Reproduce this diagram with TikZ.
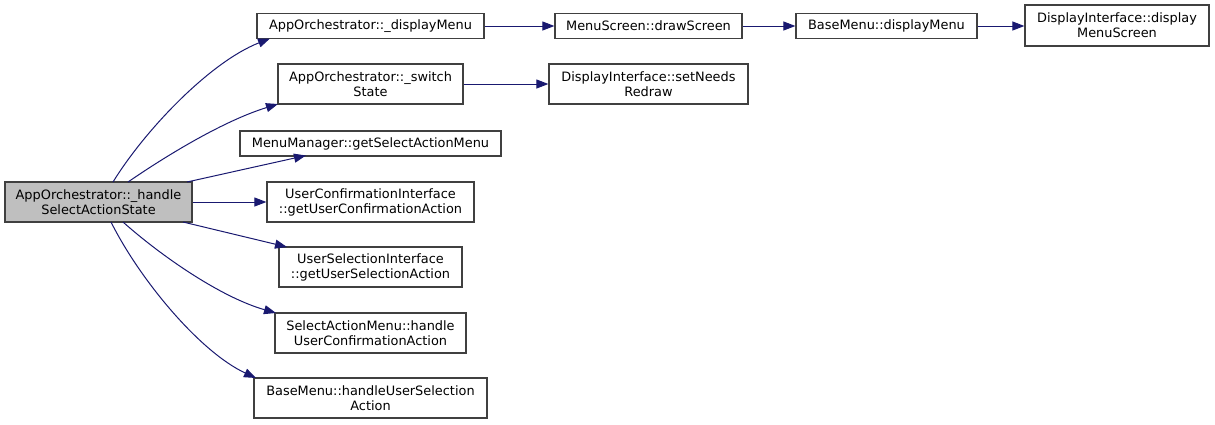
\documentclass[tikz,border=0pt]{standalone}
\usepackage{fontspec}
\setmainfont{DejaVu Sans}
\usetikzlibrary{arrows.meta}
\definecolor{edgeblue}{HTML}{191970}
\definecolor{boxline}{HTML}{404040}
\definecolor{curfill}{HTML}{BFBFBF}
\tikzset{
  fn/.style={draw=boxline, line width=1.2pt, fill=white, inner sep=0pt, align=center,
    font=\fontsize{12.9}{15}\selectfont},
  cur/.style={fn, fill=curfill},
  call/.style={draw=edgeblue, line width=1pt, -{Triangle[length=12pt,width=9pt]}, fill=none},
}
\begin{document}
\begin{tikzpicture}[x=1pt,y=-1pt]
\useasboundingbox (0,0) rectangle (1215,424);
\node[cur, minimum width=187pt, minimum height=40pt] (A) at (98.5,202) {AppOrchestrator::\_handle\\SelectActionState};
\node[fn, minimum width=227pt, minimum height=25pt] (B) at (370.5,26) {AppOrchestrator::\_displayMenu};
\node[fn, minimum width=185pt, minimum height=40pt] (C) at (370.5,84) {AppOrchestrator::\_switch\\State};
\node[fn, minimum width=261pt, minimum height=25pt] (D) at (370.5,143.5) {MenuManager::getSelectActionMenu};
\node[fn, minimum width=207pt, minimum height=40pt] (E) at (370.5,202) {UserConfirmationInterface\\::getUserConfirmationAction};
\node[fn, minimum width=183pt, minimum height=40pt] (F) at (370.5,267) {UserSelectionInterface\\::getUserSelectionAction};
\node[fn, minimum width=191pt, minimum height=40pt] (G) at (370.5,333) {SelectActionMenu::handle\\UserConfirmationAction};
\node[fn, minimum width=233pt, minimum height=40pt] (H) at (370.5,398) {BaseMenu::handleUserSelection\\Action};
\node[fn, minimum width=187pt, minimum height=25pt] (I) at (648.5,26) {MenuScreen::drawScreen};
\node[fn, minimum width=199pt, minimum height=40pt] (J) at (648.5,84) {DisplayInterface::setNeeds\\Redraw};
\node[fn, minimum width=181pt, minimum height=25pt] (K) at (886.5,26) {BaseMenu::displayMenu};
\node[fn, minimum width=184pt, minimum height=41pt] (L) at (1117,25.5) {DisplayInterface::display\\MenuScreen};

\coordinate (aB) at (113,182);
\coordinate (aC) at (128,182);
\coordinate (aD) at (187,182);
\coordinate (aF) at (183,222);
\coordinate (aG) at (123,222);
\coordinate (aH) at (111,222);
\coordinate (tB) at (270,38.5);
\coordinate (tC) at (278,104);
\coordinate (tD) at (306,155.5);
\coordinate (tF) at (287,247);
\coordinate (tG) at (276,313);
\coordinate (tH) at (256,378);

\draw[call] (aB) .. controls (145,130) and (210,62) .. (tB);
\draw[call] (aC) .. controls (160,160) and (220,122) .. (tC);
\draw[call] (aD) -- (tD);
\draw[call] (A.east) -- (E.west);
\draw[call] (aF) -- (tF);
\draw[call] (aG) .. controls (160,255) and (220,297) .. (tG);
\draw[call] (aH) .. controls (140,280) and (200,352) .. (tH);
\draw[call] (B.east) -- (I.west);
\draw[call] (C.east) -- (J.west);
\draw[call] (I.east) -- (K.west);
\draw[call] (K.east) -- (K.east -| L.west);
\end{tikzpicture}
\end{document}
